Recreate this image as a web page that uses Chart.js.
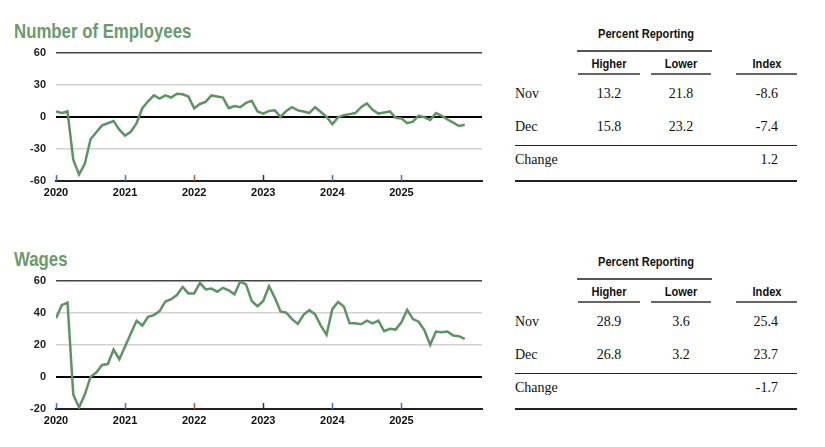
<!DOCTYPE html>
<html>
<head>
<meta charset="utf-8">
<script src="https://cdn.jsdelivr.net/npm/chart.js@4"></script>
<style>
  body { margin: 0; background: #fff; width: 825px; height: 447px; position: relative; overflow: hidden; }
  .box { position: absolute; left: 0; width: 490px; height: 169px; }
  .title { position: absolute; left: 14px; font: bold 21px "Liberation Sans", Arial, sans-serif; color: #6b9a6b; line-height: 21px; white-space: nowrap; transform: scaleX(0.8); transform-origin: 0 0; }
  .t { position: absolute; white-space: nowrap; line-height: 1; }
  .hd { font: bold 13.5px "Liberation Sans", Arial, sans-serif; color: #111; }
  .bd { font: 14px "Liberation Serif", "Times New Roman", serif; color: #111; }
  .rule { position: absolute; height: 1.5px; }
</style>
</head>
<body>
<div class="title" style="top:20px">Number of Employees</div>
<div class="box" style="top:36px"><canvas id="employees"></canvas></div>
<div class="title" style="top:248px">Wages</div>
<div class="box" style="top:264px"><canvas id="wages"></canvas></div>
<div id="tables"></div>
<script>
// monthly index values, Jan 2020 .. Dec 2025
const yearLabels = ['2020', '2021', '2022', '2023', '2024', '2025'];
const tickColors = ['#3f6fc8', '#4a72b8', '#b05a2c', '#333333', '#3f6fc8', '#4a72b8'];

const employees = [
  5, 3.5, 5, -40, -54, -44, -21, -14.5, -8, -6, -4, -12,
  -17.5, -14, -6, 8, 14.5, 20, 17, 20, 18, 21.5, 21, 19,
  8, 12, 14, 20, 19, 18, 8, 10, 9, 13, 15, 5,
  3, 5.5, 6, 0, 5.5, 9, 6, 5, 3.5, 9, 4.5, 0,
  -7, -0.5, 1.5, 2.5, 3.5, 9, 12.5, 6.5, 3, 4, 5, -1,
  -1.5, -6, -4.5, 1, -0.5, -3, 3.5, 1, -2.5, -5.5, -8.6, -7.4
];
const wages = [
  36.5, 44.7, 46.3, -11, -19, -11, 0, 2.7, 7.4, 8, 17, 11,
  19, 27, 35, 32, 37.5, 38.5, 41, 47, 48.4, 51, 56, 52,
  52, 58.6, 54.5, 55, 53, 55.5, 54, 51.5, 59.4, 57.6, 47.3, 44,
  47.3, 56.5, 49.4, 40.8, 40, 36, 33, 38.7, 41.6, 39, 32, 26.2,
  42.2, 46.7, 43.9, 33.4, 33.4, 32.8, 35, 33.4, 35, 28.5, 30, 29.5,
  34, 41.8, 36, 34.4, 29, 20, 28.3, 27.9, 28.3, 25.8, 25.4, 23.7
];

// summary tables
const tableMonths = ['Nov', 'Dec'];
const empHigher = [13.2, 15.8];
const empLower = [21.8, 23.2];
const empIndex = [-8.6, -7.4];
const empChange = 1.2;
const wageHigher = [28.9, 26.8];
const wageLower = [3.6, 3.2];
const wageIndex = [25.4, 23.7];
const wageChange = -1.7;

const LINE = '#5e9461';

// small year marks sitting on the bottom axis, inside the plot
const yearTicks = {
  id: 'yearTicks',
  beforeDatasetsDraw(chart) {
    const { ctx, chartArea, scales: { x } } = chart;
    ctx.save();
    ctx.lineWidth = 1.5;
    x.ticks.forEach((t, i) => {
      const px = Math.round(x.getPixelForValue(t.value)) + 0.5;
      ctx.strokeStyle = tickColors[i];
      ctx.beginPath();
      ctx.moveTo(px, chartArea.bottom);
      ctx.lineTo(px, chartArea.bottom - 6);
      ctx.stroke();
    });
    ctx.restore();
  }
};

function makeChart(id, values, yMin, yMax, yStep) {
  return new Chart(document.getElementById(id), {
    type: 'line',
    data: {
      datasets: [{
        data: values.map((v, i) => ({ x: i, y: v })),
        borderColor: LINE,
        borderWidth: 2.5,
        pointRadius: 0,
        tension: 0,
      }],
    },
    options: {
      animation: false,
      responsive: true,
      maintainAspectRatio: false,
      layout: { padding: { top: 16, right: 8, left: 0, bottom: 0 } },
      plugins: { legend: { display: false }, tooltip: { enabled: false } },
      scales: {
        x: {
          type: 'linear',
          min: 0,
          max: 74,
          afterBuildTicks: (s) => { s.ticks = yearLabels.map((y, i) => ({ value: i * 12 })); },
          afterFit: (s) => { s.height = 24; },
          ticks: {
            callback: (v, i) => yearLabels[i],
            autoSkip: false,
            maxRotation: 0,
            padding: 5,
            color: '#111',
            font: { family: 'Liberation Sans', weight: 'bold', size: 11 },
          },
          grid: { drawOnChartArea: false, drawTicks: false },
          border: { color: '#222', width: 2 },
        },
        y: {
          min: yMin,
          max: yMax,
          afterFit: (s) => { s.width = 56; },
          ticks: {
            stepSize: yStep,
            padding: 10,
            color: '#222',
            font: { family: 'Liberation Sans', weight: 'bold', size: 11 },
          },
          grid: {
            drawTicks: false,
            color: (c) => c.tick.value === 0 ? '#000' : c.tick.value === yMax ? '#444' : c.tick.value === yMin ? 'rgba(0,0,0,0)' : '#d2d2d2',
            lineWidth: (c) => c.tick.value === 0 ? 2 : 1.5,
          },
          border: { display: false },
        },
      },
    },
    plugins: [yearTicks],
  });
}

makeChart('employees', employees, -60, 60, 30);
makeChart('wages', wages, -20, 60, 20);

// tables on the right
const host = document.getElementById('tables');
function put(text, x, y, align, cls) {
  const d = document.createElement('div');
  d.className = 't ' + cls;
  d.textContent = text;
  d.style.left = x + 'px';
  d.style.top = y + 'px';
  const tx = align === 'center' ? '-50%' : align === 'right' ? '-100%' : '0';
  // header cells use a narrowed sans, like the original condensed face
  const sx = cls === 'hd' ? ' scaleX(0.82)' : '';
  d.style.transform = `translate(${tx}, -50%)${sx}`;
  host.appendChild(d);
}
function rule(x1, x2, y, color) {
  const d = document.createElement('div');
  d.className = 'rule';
  d.style.left = x1 + 'px';
  d.style.width = (x2 - x1) + 'px';
  d.style.top = (y - 0.75) + 'px';
  d.style.background = color;
  host.appendChild(d);
}
function fmt(v) { return v.toFixed(1); }
function table(dy, higher, lower, index, change) {
  put('Percent Reporting', 646, 33 + dy, 'center', 'hd');
  rule(577, 712, 51 + dy, '#555');
  put('Higher', 609, 63 + dy, 'center', 'hd');
  put('Lower', 681, 63 + dy, 'center', 'hd');
  put('Index', 767, 63 + dy, 'center', 'hd');
  rule(578, 640, 74 + dy, '#666');
  rule(651, 711, 74 + dy, '#666');
  rule(736, 797, 74 + dy, '#666');
  tableMonths.forEach((m, i) => {
    const y = 94 + i * 33 + dy;
    put(m, 515, y, 'left', 'bd');
    put(fmt(higher[i]), 609, y, 'center', 'bd');
    put(fmt(lower[i]), 681, y, 'center', 'bd');
    put(fmt(index[i]), 778, y, 'right', 'bd');
  });
  rule(515, 797, 145.5 + dy, '#222');
  put('Change', 515, 160 + dy, 'left', 'bd');
  put(fmt(change), 778, 160 + dy, 'right', 'bd');
  rule(515, 797, 181 + dy, '#222');
}
table(0, empHigher, empLower, empIndex, empChange);
table(228, wageHigher, wageLower, wageIndex, wageChange);
</script>
</body>
</html>
